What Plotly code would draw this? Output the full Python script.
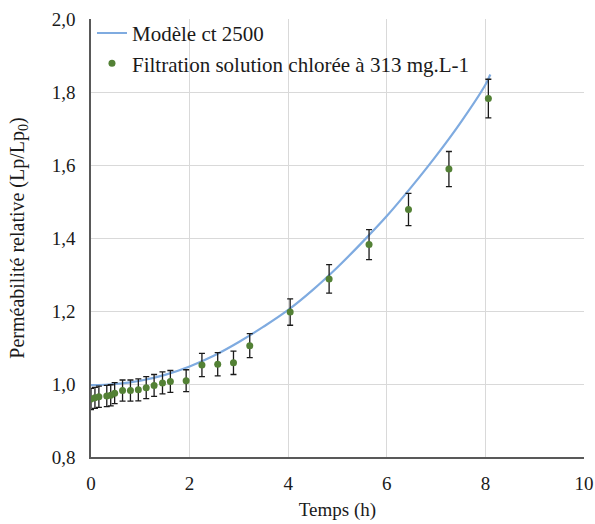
import plotly.graph_objects as go

# Model curve
model_t = [0, 0.5, 1.0, 1.5, 2.0, 2.5, 3.0, 3.5, 4.0, 4.5, 5.0, 5.5, 6.0, 6.5, 7.0, 7.5, 8.0, 8.1]
model_y = [0.997, 1.000, 1.009, 1.025, 1.048, 1.078, 1.115, 1.157, 1.203, 1.258, 1.320, 1.388,
           1.460, 1.540, 1.625, 1.717, 1.820, 1.848]

# Experimental data
exp_t = [0, 0.08, 0.16, 0.32, 0.40, 0.48, 0.64, 0.80, 0.96, 1.12, 1.28, 1.45, 1.61, 1.93,
         2.25, 2.57, 2.89, 3.22, 4.04, 4.83, 5.64, 6.44, 7.26, 8.06]
exp_y = [0.959, 0.962, 0.965, 0.967, 0.969, 0.975, 0.982, 0.982, 0.984, 0.990, 0.996, 1.003,
         1.007, 1.009, 1.052, 1.054, 1.058, 1.105, 1.197, 1.288, 1.382, 1.478, 1.589, 1.782]
exp_err = [0.029, 0.029, 0.029, 0.029, 0.029, 0.029, 0.029, 0.029, 0.030, 0.030, 0.030, 0.030,
           0.030, 0.030, 0.032, 0.032, 0.032, 0.033, 0.036, 0.039, 0.041, 0.044, 0.048, 0.053]

x_ticks = [0, 2, 4, 6, 8, 10]
y_ticks = [0.8, 1.0, 1.2, 1.4, 1.6, 1.8, 2.0]

font = "Liberation Serif"
txt = "#1a1a1a"

fig = go.Figure()
fig.add_trace(go.Scatter(
    x=model_t, y=model_y, mode="lines", name="Modèle ct 2500",
    line=dict(color="#7fabe0", width=2.2, shape="spline"),
))
fig.add_trace(go.Scatter(
    x=exp_t, y=exp_y, mode="markers", name="Filtration solution chlorée à 313 mg.L-1",
    marker=dict(color="#538135", size=7),
    error_y=dict(type="data", array=exp_err, visible=True, color="#1a1a1a", thickness=1.3, width=3),
))

fig.update_layout(
    width=595, height=524,
    margin=dict(l=91, r=11, t=19, b=67),
    paper_bgcolor="white", plot_bgcolor="white",
    separators=", ",
    font=dict(family=font, size=19, color=txt),
    showlegend=True,
    legend=dict(x=0.002, y=1.014, xanchor="left", yanchor="top",
                bgcolor="rgba(0,0,0,0)", font=dict(family=font, size=21, color=txt),
                tracegroupgap=0, itemwidth=30),
    xaxis=dict(range=[0, 10], tickvals=x_ticks, showgrid=True, gridcolor="#d9d9d9", gridwidth=1,
               showline=True, linecolor="#595959", linewidth=1.5, zeroline=False, automargin=False,
               ticks="", ticklabelstandoff=8,
               title=dict(text="Temps (h)", font=dict(family=font, size=19, color=txt), standoff=10),
               tickfont=dict(family=font, size=19, color=txt)),
    yaxis=dict(range=[0.8, 2.0], tickvals=y_ticks, tickformat=".1f", showgrid=True,
               gridcolor="#d9d9d9", gridwidth=1, showline=True, linecolor="#595959", linewidth=1.5,
               zeroline=False, ticks="", automargin=False, ticklabelstandoff=10,
               title=dict(text="Perméabilité relative (Lp/Lp<sub>0</sub>)",
                          font=dict(family=font, size=20, color=txt), standoff=22),
               tickfont=dict(family=font, size=19, color=txt)),
)

fig.write_html("out.html", config={"displayModeBar": False},
               post_script="document.body.style.margin='0';document.body.style.overflow='hidden';")
